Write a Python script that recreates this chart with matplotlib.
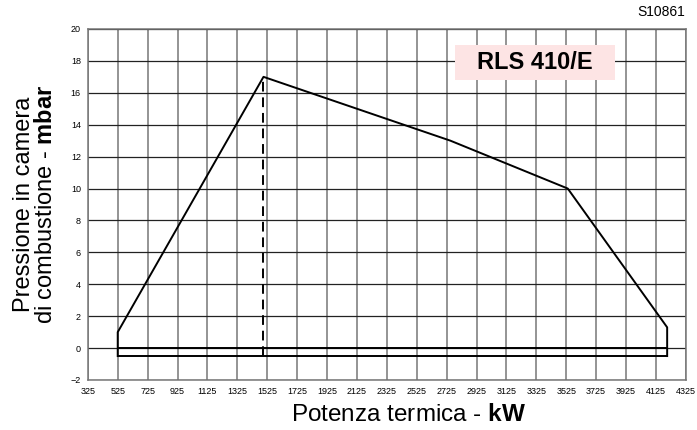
import matplotlib
matplotlib.use("Agg")
import matplotlib.pyplot as plt
from matplotlib.patches import Rectangle

plt.rcParams["font.family"] = ["Liberation Sans", "DejaVu Sans"]
plt.rcParams["mathtext.fontset"] = "custom"
plt.rcParams["mathtext.rm"] = "Liberation Sans"
plt.rcParams["mathtext.bf"] = "Liberation Sans:bold"

# working field outline (kW, mbar)
field_x = [525, 525, 1500, 2750, 3535, 4200, 4200]
field_y = [-0.5, 1.0, 17.0, 13.0, 10.0, 1.3, -0.5]
base_x = [525, 4200]
base_top = [0, 0]
base_bottom = [-0.5, -0.5]
min_output_x = [1500, 1500]
min_output_y = [-0.5, 17.0]

x_ticks = list(range(325, 4326, 200))
y_ticks = list(range(-2, 21, 2))


def main():
    fig = plt.figure(figsize=(6.97, 4.30), dpi=100)
    ax = fig.add_axes([0.126, 0.1163, 0.858, 0.8163])

    ax.set_xlim(325, 4325)
    ax.set_ylim(-2, 20)
    ax.set_xticks(x_ticks)
    ax.set_yticks(y_ticks)
    ax.tick_params(length=0, labelsize=6.5, pad=5)

    for x in x_ticks:
        ax.axvline(x, color="#777777", lw=1.1, zorder=1)
    for y in y_ticks:
        ax.axhline(y, color="#222222", lw=0.9, zorder=1)
    for s in ax.spines.values():
        s.set_color("#777777")
        s.set_linewidth(1.1)

    ax.plot(field_x, field_y, color="black", lw=1.4, zorder=3)
    ax.plot(base_x, base_top, color="black", lw=1.4, zorder=3)
    ax.plot(base_x, base_bottom, color="black", lw=1.4, zorder=3)
    ax.plot(min_output_x, min_output_y, color="black", lw=1.4,
            ls=(0, (5, 3)), zorder=3)

    # model name box
    ax.add_patch(Rectangle((2780, 16.8), 1070, 2.2, fc="#fde4e4", ec="none", zorder=2))
    ax.text(3315, 17.9, "RLS 410/E", fontsize=17, fontweight="bold",
            ha="center", va="center", zorder=4)
    fig.text(0.983, 0.972, "S10861", fontsize=10, ha="right", va="center")

    ax.set_xlabel(r"Potenza termica - $\bf{kW}$", fontsize=17.5)
    ax.xaxis.set_label_coords(0.537, -0.068)
    ax.set_ylabel("Pressione in camera\n" + r"di combustione - $\bf{mbar}$",
                  fontsize=17, labelpad=10, linespacing=1.0)

    fig.savefig("out.png", dpi=100)


if __name__ == "__main__":
    main()
